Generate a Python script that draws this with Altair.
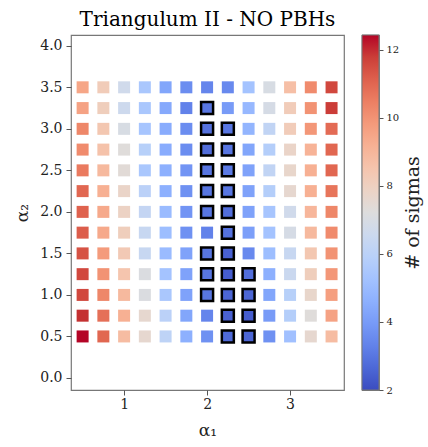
import altair as alt
import pandas as pd

# grid coordinates
alpha1 = [0.5, 0.75, 1.0, 1.25, 1.5, 1.75, 2.0, 2.25, 2.5, 2.75, 3.0, 3.25, 3.5]
alpha2_rows = [3.5, 3.25, 3.0, 2.75, 2.5, 2.25, 2.0, 1.75, 1.5, 1.25, 1.0, 0.75, 0.5]

# number of sigmas, one row per alpha2 value (top to bottom), columns follow alpha1
row_350 = [9.5, 8.2, 6.7, 5.5, 4.3, 3.6, 3.4, 3.5, 5.3, 7.0, 8.7, 10.2, 11.6]
row_325 = [9.6, 8.1, 6.6, 5.5, 4.4, 3.3, 3.0, 4.0, 4.9, 6.9, 8.2, 10.0, 11.8]
row_300 = [10.3, 8.4, 7.0, 5.4, 4.5, 3.6, 2.9, 3.0, 4.8, 6.2, 8.2, 9.9, 10.9]
row_275 = [10.2, 8.6, 7.3, 5.9, 4.5, 3.6, 2.8, 3.0, 4.3, 5.8, 7.8, 9.1, 11.0]
row_250 = [10.6, 8.9, 7.4, 5.5, 4.6, 3.8, 3.0, 3.1, 4.2, 6.2, 7.7, 9.2, 11.0]
row_225 = [11.0, 9.2, 7.8, 6.0, 4.6, 3.7, 3.0, 3.0, 4.2, 5.8, 7.6, 9.2, 10.7]
row_200 = [11.1, 9.4, 7.9, 6.3, 5.0, 3.8, 3.0, 2.8, 4.2, 5.4, 6.7, 9.0, 10.3]
row_175 = [11.2, 9.4, 8.1, 6.4, 5.1, 3.7, 3.3, 2.9, 4.1, 5.3, 6.9, 8.9, 10.2]
row_150 = [11.4, 9.8, 8.3, 6.4, 5.0, 4.2, 3.0, 2.5, 3.5, 5.1, 6.4, 8.4, 10.0]
row_125 = [11.6, 10.0, 8.5, 7.1, 5.3, 4.2, 3.0, 2.4, 2.8, 4.6, 6.5, 8.1, 9.9]
row_100 = [11.6, 10.3, 8.9, 7.1, 5.5, 4.2, 3.0, 2.6, 2.6, 4.3, 5.9, 7.7, 9.7]
row_075 = [12.0, 10.8, 9.2, 7.6, 6.0, 4.3, 3.4, 2.5, 2.4, 4.0, 5.8, 7.3, 9.6]
row_050 = [12.44, 11.0, 8.8, 7.6, 6.1, 4.6, 3.7, 2.7, 2.6, 3.7, 5.2, 7.6, 8.8]
sigma_rows = [row_350, row_325, row_300, row_275, row_250, row_225, row_200,
              row_175, row_150, row_125, row_100, row_075, row_050]

# highlighted (outlined) cells: 1 = outlined
hl_350 = [0, 0, 0, 0, 0, 0, 0, 0, 0, 0, 0, 0, 0]
hl_325 = [0, 0, 0, 0, 0, 0, 1, 0, 0, 0, 0, 0, 0]
hl_300 = [0, 0, 0, 0, 0, 0, 1, 1, 0, 0, 0, 0, 0]
hl_275 = [0, 0, 0, 0, 0, 0, 1, 1, 0, 0, 0, 0, 0]
hl_250 = [0, 0, 0, 0, 0, 0, 1, 1, 0, 0, 0, 0, 0]
hl_225 = [0, 0, 0, 0, 0, 0, 1, 1, 0, 0, 0, 0, 0]
hl_200 = [0, 0, 0, 0, 0, 0, 1, 1, 0, 0, 0, 0, 0]
hl_175 = [0, 0, 0, 0, 0, 0, 0, 1, 0, 0, 0, 0, 0]
hl_150 = [0, 0, 0, 0, 0, 0, 1, 1, 0, 0, 0, 0, 0]
hl_125 = [0, 0, 0, 0, 0, 0, 1, 1, 1, 0, 0, 0, 0]
hl_100 = [0, 0, 0, 0, 0, 0, 1, 1, 1, 0, 0, 0, 0]
hl_075 = [0, 0, 0, 0, 0, 0, 0, 1, 1, 0, 0, 0, 0]
hl_050 = [0, 0, 0, 0, 0, 0, 0, 1, 1, 0, 0, 0, 0]
hl_rows = [hl_350, hl_325, hl_300, hl_275, hl_250, hl_225, hl_200,
           hl_175, hl_150, hl_125, hl_100, hl_075, hl_050]

# colour bar (coolwarm)
cbar_min, cbar_max = 2.0, 12.44
cbar_ticks = [2, 4, 6, 8, 10, 12]
coolwarm = ["#3b4cc0", "#4d68d7", "#6282ea", "#779af7", "#8db0fe", "#a3c2ff",
            "#b8d0f9", "#ccd9ee", "#dddddd", "#ecd3c5", "#f5c4ad", "#f7b194",
            "#f49a7b", "#ec7f63", "#de604d", "#cb3e38", "#b40426"]
n = len(coolwarm) - 1
stops = [cbar_min + i * (cbar_max - cbar_min) / n for i in range(n + 1)]

records = []
for r, a2 in enumerate(alpha2_rows):
    for c, a1 in enumerate(alpha1):
        records.append({"a1": a1, "a2": a2, "sigma": sigma_rows[r][c],
                        "hl": hl_rows[r][c]})
df = pd.DataFrame(records)

FONT = "DejaVu Serif"
TXT = "#222222"

x_enc = alt.X("a1:Q", scale=alt.Scale(domain=[0.36, 3.65], nice=False, zero=False),
              axis=alt.Axis(values=[1, 2, 3], title="α₁", format="d",
                            labelPadding=2, titlePadding=11))
y_enc = alt.Y("a2:Q", scale=alt.Scale(domain=[-0.145, 4.13], nice=False, zero=False),
              axis=alt.Axis(values=[0, 0.5, 1, 1.5, 2, 2.5, 3, 3.5, 4], format=".1f",
                            title="α₂", titlePadding=8))
cscale = alt.Scale(domain=stops, range=coolwarm)

base = alt.Chart(df).mark_square(size=144, opacity=1, strokeWidth=0).encode(
    x=x_enc, y=y_enc, color=alt.Color("sigma:Q", scale=cscale, legend=None))

outl = alt.Chart(df).transform_filter(alt.datum.hl == 1).mark_square(
    size=144, opacity=1, stroke="black", strokeWidth=2.5).encode(
    x=x_enc, y=y_enc, color=alt.Color("sigma:Q", scale=cscale, legend=None))

main = alt.layer(base, outl).properties(
    width=273, height=355,
    title=alt.TitleParams("Triangulum II - NO PBHs", fontSize=20, font=FONT,
                          fontWeight="normal", offset=5, color="black"),
)

# colour bar panel: one rect from cbar_min to cbar_max filled with the coolwarm gradient
cb_df = pd.DataFrame({"lo": [cbar_min], "hi": [cbar_max]})
grad = alt.LinearGradient(
    gradient="linear", x1=0, x2=0, y1=1, y2=0,
    stops=[alt.GradientStop(offset=i / n, color=coolwarm[i]) for i in range(n + 1)])
cbar = alt.Chart(cb_df).mark_rect(fill=grad, stroke="#777777", strokeWidth=1).encode(
    y=alt.Y("lo:Q", scale=alt.Scale(domain=[cbar_min, cbar_max], nice=False, zero=False),
            axis=alt.Axis(orient="right", values=cbar_ticks, format="d",
                          title="# of sigmas", titleAngle=270, titleBaseline="top",
                          titleFontSize=19, labelFontSize=10, tickSize=4,
                          labelPadding=3, titlePadding=5)),
    y2="hi:Q",
).properties(width=17, height=355)

chart = alt.hconcat(main, cbar, spacing=18, bounds="flush").properties(
    padding={"left": 13, "top": 9, "right": 4, "bottom": 6},
).configure_view(
    stroke="#777777", strokeWidth=1.2
).configure_axis(
    grid=False, domain=False, labelFont=FONT, titleFont=FONT, labelFontSize=14,
    labelColor=TXT, titleColor=TXT, titleFontSize=17, titleFontWeight="normal",
    tickColor="#555555", tickSize=5, labelPadding=4, tickWidth=1
)

chart.save("out.html", embed_options={"renderer": "svg", "actions": False})
